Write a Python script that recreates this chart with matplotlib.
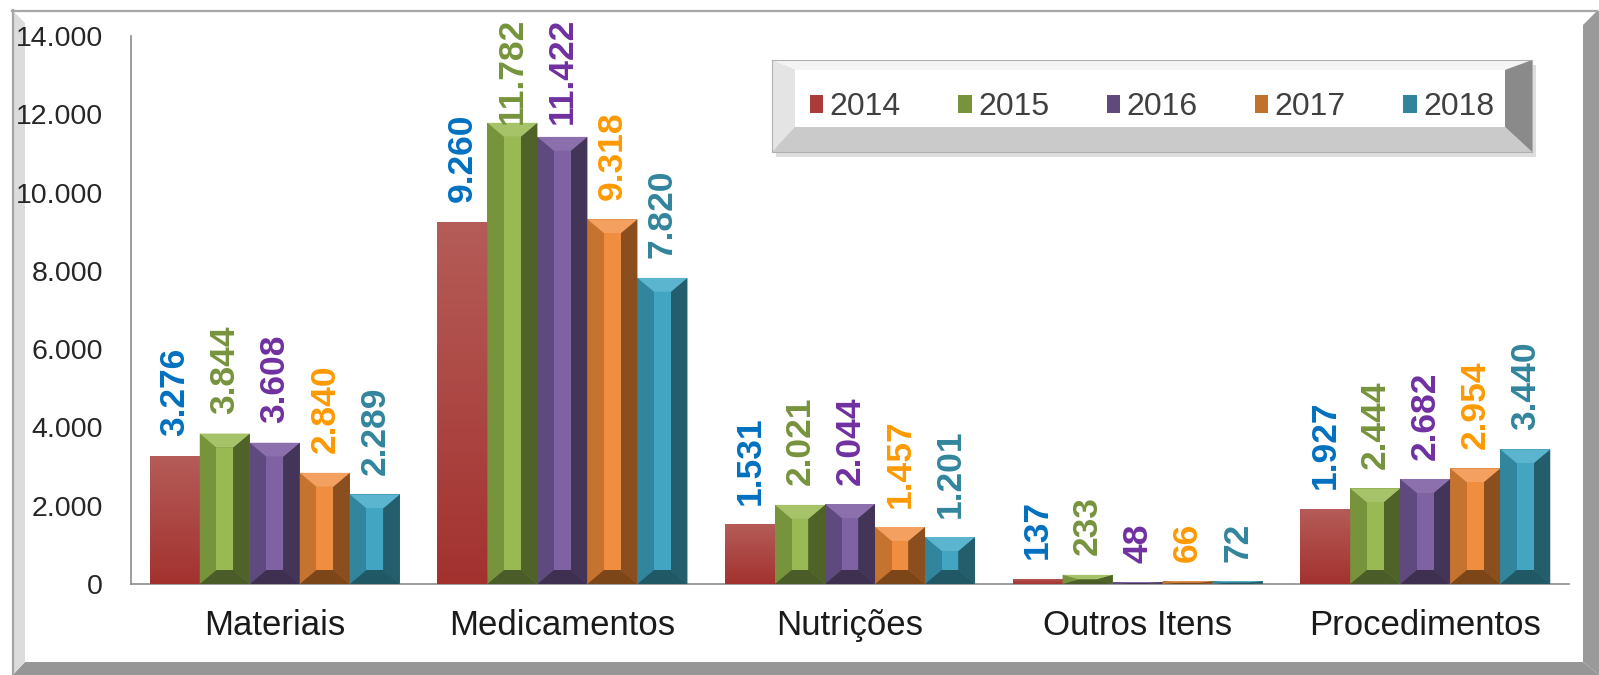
import numpy as np
import matplotlib
matplotlib.use("Agg")
import matplotlib.pyplot as plt
from matplotlib.patches import Polygon, Patch

plt.rcParams['font.family'] = ['Liberation Sans', 'DejaVu Sans']

categories = ['Materiais', 'Medicamentos', 'Nutrições', 'Outros Itens', 'Procedimentos']
years = ['2014', '2015', '2016', '2017', '2018']
v2014 = [3276, 9260, 1531, 137, 1927]
v2015 = [3844, 11782, 2021, 233, 2444]
v2016 = [3608, 11422, 2044, 48, 2682]
v2017 = [2840, 9318, 1457, 66, 2954]
v2018 = [2289, 7820, 1201, 72, 3440]
series = [v2014, v2015, v2016, v2017, v2018]
yticks = [0, 2000, 4000, 6000, 8000, 10000, 12000, 14000]

# facet colours for the bevel look: center, left, right, top, bottom
facets = {
    '2015': ('#98B954', '#77933C', '#4F6228', '#A6C36A', '#4A5C28'),
    '2016': ('#7F62A1', '#5F4A80', '#433558', '#8C70AD', '#3F3052'),
    '2017': ('#EF8E3E', '#C6732F', '#8B4E1E', '#F4A060', '#7C4619'),
    '2018': ('#42A5C2', '#31869E', '#245E6C', '#5BB5CF', '#205866'),
}
legend_colors = ['#A93C39', '#77933C', '#604A7B', '#C0712C', '#31849B']
label_colors = ['#0070C0', '#77933C', '#7030A0', '#FF9900', '#31859C']

W, H = 1599, 675
fig = plt.figure(figsize=(W / 100, H / 100), dpi=100)

# background frame drawn in pixel coords
bg = fig.add_axes([0, 0, 1, 1], zorder=0)
bg.set_xlim(0, W)
bg.set_ylim(H, 0)
bg.axis('off')
bg.add_patch(Polygon([(1583, 25), (1597, 11), (1599, 11), (1599, 675), (1583, 662)], closed=True,
                     fc='#9A9A9A', ec='none'))
bg.add_patch(Polygon([(12, 675), (25, 662), (1583, 662), (1599, 675)], closed=True,
                     fc='#969696', ec='none'))
bg.add_patch(Polygon([(13, 11), (25, 23), (25, 662), (13, 675)], closed=True,
                     fc='#DCDCDC', ec='none'))
bg.plot([12, 1597], [10.5, 10.5], color='#A6A6A6', lw=1.6)
bg.plot([12.5, 12.5], [10, 675], color='#A6A6A6', lw=1.6)

# legend box with bevel
lx0, ly0, lx1, ly1 = 772, 60, 1532, 152
ix0, iy0, ix1, iy1 = 795, 70, 1505, 127
bg.add_patch(Polygon([(lx0 + 4, ly0 + 5), (lx1 + 4, ly0 + 5), (lx1 + 4, ly1 + 5), (lx0 + 4, ly1 + 5)],
                     closed=True, fc='#C8C8C8', ec='none', alpha=0.6))
bg.add_patch(Polygon([(lx0, ly0), (lx1, ly0), (ix1, iy0), (ix0, iy0)], fc='#F4F4F4', ec='none'))
bg.add_patch(Polygon([(lx0, ly0), (ix0, iy0), (ix0, iy1), (lx0, ly1)], fc='#E4E4E4', ec='none'))
bg.add_patch(Polygon([(lx1, ly0), (lx1, ly1), (ix1, iy1), (ix1, iy0)], fc='#8A8A8A', ec='none'))
bg.add_patch(Polygon([(lx0, ly1), (lx1, ly1), (ix1, iy1), (ix0, iy1)], fc='#CACACA', ec='none'))
bg.add_patch(Polygon([(ix0, iy0), (ix1, iy0), (ix1, iy1), (ix0, iy1)], fc='white', ec='none'))
bg.plot([lx0, lx1, lx1, lx0, lx0], [ly0, ly0, ly1, ly1, ly0], color='#B0B0B0', lw=0.8)

# main chart
ax = fig.add_axes([131 / W, 1 - 584 / H, (1569 - 131) / W, (584 - 36) / H], zorder=2)
ax.set_facecolor('none')
x = np.arange(len(categories))
w = 1 / 5.75
ymax = 14000
px_per_unit = (584 - 36) / ymax

labels = []
for k, (yr, vals) in enumerate(zip(years, series)):
    pos = x + (k - 2) * w
    bars = ax.bar(pos, vals, width=w, color=legend_colors[k], linewidth=0, zorder=2)
    for b, v in zip(bars, vals):
        x0 = b.get_x()
        x1 = x0 + b.get_width()
        h = b.get_height()
        if yr == '2014':
            grad = np.linspace(0, 1, 100).reshape(-1, 1)
            cmap = matplotlib.colors.LinearSegmentedColormap.from_list('r', ['#A3322F', '#B55C58'])
            im = ax.imshow(grad, extent=[x0, x1, 0, h], origin='lower', aspect='auto',
                           cmap=cmap, zorder=3)
            im.set_clip_path(b)
        else:
            c, cl, cr, ct, cb = facets[yr]
            bx = b.get_width() / 3
            bv = min(14 / px_per_unit, h / 2)
            ax.add_patch(Polygon([(x0, 0), (x0, h), (x0 + bx, h - bv), (x0 + bx, bv)], fc=cl, ec='none', zorder=3))
            ax.add_patch(Polygon([(x1, 0), (x1, h), (x1 - bx, h - bv), (x1 - bx, bv)], fc=cr, ec='none', zorder=3))
            ax.add_patch(Polygon([(x0, h), (x1, h), (x1 - bx, h - bv), (x0 + bx, h - bv)], fc=ct, ec='none', zorder=3))
            ax.add_patch(Polygon([(x0, 0), (x1, 0), (x1 - bx, bv), (x0 + bx, bv)], fc=cb, ec='none', zorder=3))
            ax.add_patch(Polygon([(x0 + bx, bv), (x1 - bx, bv), (x1 - bx, h - bv), (x0 + bx, h - bv)],
                                 fc=c, ec='none', zorder=3))
        ann = ax.annotate(f'{v:,}'.replace(',', '.'), (b.get_x() + b.get_width() / 2, h),
                          xytext=(0, 14), textcoords='offset points', rotation=90,
                          ha='center', va='bottom', fontsize=25.5, fontweight='bold',
                          color=label_colors[k], zorder=4)
        labels.append(ann)

ax.set_xlim(-0.5, len(categories) - 0.5)
ax.set_ylim(0, ymax)
ax.set_yticks(yticks)
ax.set_yticklabels([f'{t:,}'.replace(',', '.') for t in yticks], fontsize=20.5, color='#262626')
ax.set_xticks(x)
ax.set_xticklabels(categories, fontsize=25, color='#1A1A1A')
ax.tick_params(axis='y', length=0, pad=20)
ax.tick_params(axis='x', length=0, pad=18)
for s in ['top', 'right']:
    ax.spines[s].set_visible(False)
for s in ['left', 'bottom']:
    ax.spines[s].set_color('#8C8C8C')
    ax.spines[s].set_linewidth(1.2)

handles = [Patch(facecolor=c, edgecolor='none') for c in legend_colors]
leg = fig.legend(handles, years, loc='center', bbox_to_anchor=(1152 / W, 1 - 107 / H),
                 ncol=5, frameon=False, fontsize=23, handlelength=0.42, handleheight=0.5,
                 handletextpad=0.2, columnspacing=1.8)
for t in leg.get_texts():
    t.set_color('#404040')

# keep labels inside the chart area, like the spreadsheet does
fig.canvas.draw()
renderer = fig.canvas.get_renderer()
top_limit = H - 18
for ann in labels:
    bb = ann.get_window_extent(renderer)
    if bb.y1 > top_limit:
        shift = (bb.y1 - top_limit) * 72 / 100
        ann.xyann = (0, 14 - shift)

fig.savefig('out.png', dpi=100)
